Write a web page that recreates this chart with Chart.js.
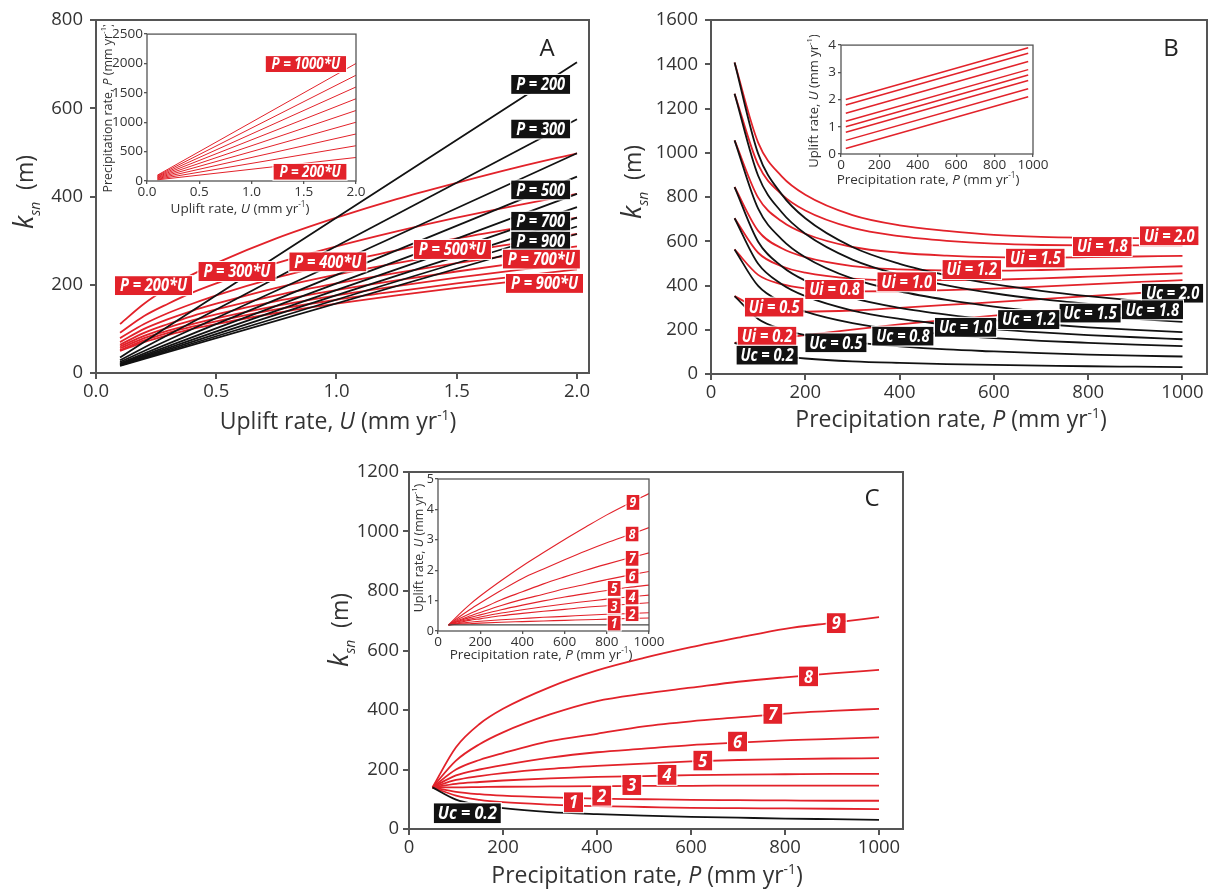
<!DOCTYPE html>
<html><head><meta charset="utf-8">
<script src="https://cdn.jsdelivr.net/npm/chart.js@4.4.1/dist/chart.umd.min.js"></script>
<style>
html,body{margin:0;padding:0;background:#fff;}
body{width:1217px;height:890px;position:relative;overflow:hidden;}
canvas{position:absolute;}
</style></head><body>
<canvas id="cA" width="600" height="440" style="left:0px;top:0px"></canvas>
<canvas id="cB" width="607" height="440" style="left:610px;top:0px"></canvas>
<canvas id="cC" width="610" height="440" style="left:300px;top:450px"></canvas>
<canvas id="iA" width="270" height="195" style="left:100px;top:25px"></canvas>
<canvas id="iB" width="250" height="155" style="left:800px;top:35px"></canvas>
<canvas id="iC" width="262" height="192" style="left:405px;top:470px"></canvas>
<script>
// ================= DATA =================
// Panel A: ksn vs uplift rate U
const A_U = [0.1, 0.2, 0.3, 0.4, 0.5, 0.75, 1.0, 1.25, 1.5, 1.75, 2.0];
// red curves, P = k*U, k = 200 ... 1000
const A_redK = [200, 300, 400, 500, 600, 700, 800, 900, 1000];
const A_red = [
  [111,157,193,223,249,305,352,394,431,466,498],
  [91,129,157,182,203,249,287,321,352,380,406],
  [79,111,136,157,176,216,249,278,305,329,352],
  [70,100,122,141,157,193,223,249,273,294,315],
  [64,91,111,129,144,176,203,227,249,269,287],
  [60,84,103,119,133,163,188,210,230,249,266],
  [56,79,96,111,124,152,176,197,216,233,249],
  [52,74,91,105,117,144,166,185,203,219,235],
  [50,70,86,100,111,136,157,176,193,208,223]
];
// black lines, constant P = 200 ... 1000
const A_blackU = [0.1, 2.0];
const A_blackP = [200, 300, 400, 500, 600, 700, 800, 900, 1000];
const A_black = [[35,704],[29,575],[25,498],[22,445],[20,406],[19,376],[18,352],[17,332],[16,315]];
// inset A: P = k*U
const iA_U = [0.1, 2.0];
const iA_P = [[20,400],[30,600],[40,800],[50,1000],[60,1200],[70,1400],[80,1600],[90,1800],[100,2000]];

// Panel B: ksn vs precipitation P
const B_P = [50, 100, 150, 200, 300, 400, 500, 600, 700, 800, 900, 1000];
const B_Ui = [0.2, 0.5, 0.8, 1.0, 1.2, 1.5, 1.8, 2.0];
const B_red = [
  [141,149,162,176,201,224,245,264,282,299,315,330],
  [352,299,284,282,287,299,312,325,338,352,365,377],
  [563,448,406,387,373,374,379,386,395,405,415,424],
  [704,548,487,458,431,423,424,426,432,440,448,455],
  [845,647,568,528,488,473,468,467,470,475,481,487],
  [1056,797,690,634,574,548,535,528,526,528,531,534],
  [1267,946,812,739,660,623,602,589,583,581,581,581],
  [1408,1046,893,810,718,672,647,629,620,616,614,612]
];
const B_Uc = [0.2, 0.5, 0.8, 1.0, 1.2, 1.5, 1.8, 2.0];
const B_black = [
  [141,100,81,70,57,50,45,41,38,35,33,31],
  [352,249,203,176,144,125,111,102,94,88,83,79],
  [563,398,325,282,230,199,178,162,150,141,133,126],
  [704,498,406,352,287,249,223,203,188,176,166,157],
  [845,598,487,422,344,299,268,244,226,211,199,189],
  [1056,747,609,528,431,374,335,305,282,264,249,236],
  [1267,896,731,634,517,448,401,365,338,317,299,283],
  [1408,996,812,704,574,498,446,406,376,352,332,314]
];
// inset B: U vs P
const iB_P = [25, 975];
const iB_U = [[0.2,2.1],[0.5,2.4],[0.8,2.7],[1.0,2.9],[1.2,3.1],[1.5,3.4],[1.8,3.7],[2.0,3.9]];

// Panel C
const C_P = [50, 100, 150, 200, 300, 400, 500, 600, 700, 800, 900, 1000];
const C_red = [
  [140,112,98,90,82,77,74,71,70,69,68,67],
  [140,125,117,112,106,102,100,98,97,96,95,95],
  [140,140,141,142,143,144,145,145,146,146,146,146],
  [140,152,158,163,170,175,178,181,183,184,185,185],
  [140,165,178,188,202,212,220,227,232,235,237,238],
  [140,180,200,215,240,258,270,282,290,298,303,308],
  [140,200,232,255,295,320,345,362,375,388,397,404],
  [140,230,285,325,385,430,455,475,495,510,523,535],
  [140,275,353,404,477,533,575,611,643,673,693,712]
];
const C_black = [140,99,81,70,57,50,45,41,38,35,33,31];
const iC_U = [
  [0.2,0.23,0.24,0.26,0.29,0.31,0.33,0.35,0.37,0.39,0.41,0.43],
  [0.2,0.25,0.29,0.32,0.37,0.41,0.45,0.48,0.52,0.55,0.57,0.60],
  [0.2,0.28,0.35,0.40,0.50,0.58,0.65,0.71,0.78,0.83,0.88,0.93],
  [0.2,0.31,0.39,0.46,0.59,0.70,0.80,0.89,0.97,1.05,1.12,1.18],
  [0.2,0.33,0.44,0.53,0.70,0.85,0.99,1.12,1.23,1.33,1.43,1.51],
  [0.2,0.36,0.49,0.61,0.84,1.04,1.21,1.39,1.54,1.69,1.83,1.96],
  [0.2,0.40,0.57,0.72,1.03,1.29,1.55,1.78,2.00,2.20,2.39,2.57],
  [0.2,0.46,0.70,0.92,1.34,1.73,2.04,2.34,2.63,2.90,3.15,3.40],
  [0.2,0.55,0.87,1.15,1.66,2.14,2.58,3.01,3.42,3.82,4.18,4.52]
];
const iC_black = [0.2,0.2,0.2,0.2,0.2,0.2,0.2,0.2,0.2,0.2,0.2,0.2];

// tick values
const A_xTicks = [0, 0.5, 1.0, 1.5, 2.0];
const A_yTicks = [0, 200, 400, 600, 800];
const B_xTicks = [0, 200, 400, 600, 800, 1000];
const B_yTicks = [0, 200, 400, 600, 800, 1000, 1200, 1400, 1600];
const C_xTicks = [0, 200, 400, 600, 800, 1000];
const C_yTicks = [0, 200, 400, 600, 800, 1000, 1200];
const iA_xTicks = [0, 0.5, 1.0, 1.5, 2.0];
const iA_yTicks = [0, 500, 1000, 1500, 2000, 2500];
const iB_xTicks = [0, 200, 400, 600, 800, 1000];
const iB_yTicks = [0, 1, 2, 3, 4];
const iC_xTicks = [0, 200, 400, 600, 800, 1000];
const iC_yTicks = [0, 1, 2, 3, 4, 5];

// ================= STYLE / DRAWING =================
const FONT = "'Open Sans', 'DejaVu Sans', sans-serif";
const RED = '#e2222a';
const BLACK = '#121212';
const AXIS = '#555555';
const TXT = '#333333';

// annotation boxes (data coordinates)
const A_labels = [
  {t:'P = 200', x:1.849, y:654, c:BLACK}, {t:'P = 300', x:1.849, y:553, c:BLACK},
  {t:'P = 500', x:1.849, y:415, c:BLACK}, {t:'P = 700', x:1.849, y:344, c:BLACK},
  {t:'P = 900', x:1.849, y:299, c:BLACK},
  {t:'P = 200*U', x:0.239, y:198, c:RED}, {t:'P = 300*U', x:0.586, y:230, c:RED},
  {t:'P = 400*U', x:0.964, y:252, c:RED}, {t:'P = 500*U', x:1.482, y:280, c:RED},
  {t:'P = 700*U', x:1.852, y:258, c:RED}, {t:'P = 900*U', x:1.865, y:203, c:RED}
];
const iA_labels = [{t:'P = 1000*U', x:1.52, y:1990, c:RED}, {t:'P = 200*U', x:1.56, y:157, c:RED}];
const B_labels = [
  {t:'Ui = 2.0', x:972, y:625, c:RED}, {t:'Ui = 1.8', x:830, y:576, c:RED},
  {t:'Ui = 1.5', x:688, y:524, c:RED}, {t:'Ui = 1.2', x:553, y:472, c:RED},
  {t:'Ui = 1.0', x:415, y:417, c:RED}, {t:'Ui = 0.8', x:262, y:382, c:RED},
  {t:'Ui = 0.5', x:134, y:302, c:RED}, {t:'Ui = 0.2', x:119, y:171, c:RED},
  {t:'Uc = 2.0', x:979, y:365, c:BLACK}, {t:'Uc = 1.8', x:936, y:290, c:BLACK},
  {t:'Uc = 1.5', x:804, y:275, c:BLACK}, {t:'Uc = 1.2', x:674, y:246, c:BLACK},
  {t:'Uc = 1.0', x:540, y:211, c:BLACK}, {t:'Uc = 0.8', x:407, y:171, c:BLACK},
  {t:'Uc = 0.5', x:265, y:141, c:BLACK}, {t:'Uc = 0.2', x:119, y:85, c:BLACK}
];
const C_labels = [
  {t:'1', x:350, y:90, c:RED, w:19}, {t:'2', x:410, y:112, c:RED, w:19},
  {t:'3', x:474, y:148, c:RED, w:19}, {t:'4', x:549, y:182, c:RED, w:19},
  {t:'5', x:625, y:230, c:RED, w:19}, {t:'6', x:699, y:294, c:RED, w:19},
  {t:'7', x:774, y:387, c:RED, w:19}, {t:'8', x:850, y:513, c:RED, w:19},
  {t:'9', x:909, y:692, c:RED, w:19}, {t:'Uc = 0.2', x:124, y:53, c:BLACK}
];
const iC_labels = [
  {t:'9', x:924, y:4.23, c:RED, w:13}, {t:'8', x:920, y:3.19, c:RED, w:13},
  {t:'7', x:920, y:2.39, c:RED, w:13}, {t:'6', x:920, y:1.81, c:RED, w:13},
  {t:'5', x:835, y:1.40, c:RED, w:13}, {t:'4', x:920, y:1.12, c:RED, w:13},
  {t:'3', x:835, y:0.83, c:RED, w:13}, {t:'2', x:920, y:0.57, c:RED, w:13},
  {t:'1', x:835, y:0.26, c:RED, w:13}
];

function ds(xs, ys, color, w) {
  return { data: xs.map((x, i) => ({x: x, y: ys[i]})), borderColor: color, borderWidth: w,
           pointRadius: 0, fill: false, cubicInterpolationMode: 'monotone' };
}

function drawRich(c, T, off) {
  c.save();
  c.fillStyle = T.color || TXT;
  c.translate(T.x - off[0], T.y - off[1]);
  if (T.rot) c.rotate(-Math.PI / 2);
  c.textBaseline = 'alphabetic';
  c.textAlign = 'left';
  const segs = T.parts.map(p => {
    const s = (p.s || 1) * T.size;
    const f = (p.it ? 'italic ' : '') + s.toFixed(1) + 'px ' + FONT;
    c.font = f;
    return {f: f, w: c.measureText(p.t).width, dy: (p.dy || 0) * T.size, t: p.t};
  });
  const W = segs.reduce((a, s) => a + s.w, 0);
  let x = -W / 2;
  const base = T.size * 0.36;
  for (const s of segs) { c.font = s.f; c.fillText(s.t, x, base + s.dy); x += s.w; }
  c.restore();
}

function drawLabels(chart, labels, L) {
  const c = chart.ctx, xs = chart.scales.x, ys = chart.scales.y;
  c.save();
  c.font = 'italic 700 ' + L.fs + 'px ' + FONT;
  c.textAlign = 'center';
  c.textBaseline = 'middle';
  for (const b of labels) {
    const cx = xs.getPixelForValue(b.x), cy = ys.getPixelForValue(b.y);
    const w = b.w ? b.w : c.measureText(b.t).width * L.sx + 2 * L.px;
    c.fillStyle = b.c;
    c.fillRect(cx - w / 2, cy - L.h / 2, w, L.h);
    c.strokeStyle = '#ffffff'; c.lineWidth = 1;
    c.strokeRect(cx - w / 2 - 0.5, cy - L.h / 2 - 0.5, w + 1, L.h + 1);
    c.fillStyle = '#ffffff';
    c.save();
    c.translate(cx, cy + 1);
    c.scale(L.sx, 1);
    c.fillText(b.t, 0, 0);
    c.restore();
  }
  c.restore();
}

function axis(a, isY) {
  return {
    type: 'linear', min: a.min, max: a.max,
    afterBuildTicks: s => { s.ticks = a.ticks.map(v => ({value: v})); },
    afterFit: s => { if (isY) s.width = a.size; else s.height = a.size; },
    ticks: { callback: v => a.fmt(v), font: {family: FONT, size: a.font}, color: TXT,
             padding: a.pad, maxRotation: 0, autoSkip: false },
    grid: { display: true, drawOnChartArea: false, drawTicks: true, tickLength: a.tl,
            color: AXIS, lineWidth: a.lw },
    border: { display: false },
    title: { display: false }
  };
}

function makeChart(id, o) {
  const ctx = document.getElementById(id).getContext('2d');
  return new Chart(ctx, {
    type: 'line',
    data: { datasets: o.datasets },
    options: {
      responsive: false, animation: false, events: [],
      layout: { padding: o.pad },
      plugins: { legend: {display: false}, tooltip: {enabled: false} },
      scales: { x: axis(o.x, false), y: axis(o.y, true) }
    },
    plugins: [{
      id: 'deco',
      afterDatasetsDraw(chart) {
        const a = chart.chartArea, c = chart.ctx;
        c.save(); c.strokeStyle = AXIS; c.lineWidth = o.frameW;
        c.strokeRect(a.left, a.top, a.right - a.left, a.bottom - a.top); c.restore();
        if (o.labels) drawLabels(chart, o.labels, o.lab);
      },
      afterDraw(chart) {
        for (const T of o.texts) drawRich(chart.ctx, T, o.off);
      }
    }]
  });
}

const fmt1 = v => v.toFixed(1);
const fmt0 = v => String(Math.round(v));
const sup = {t: '-1', s: 0.6, dy: -0.42};
const titleU = [{t: 'Uplift rate, '}, {t: 'U', it: 1}, {t: ' (mm yr'}, sup, {t: ')'}];
const titleP = [{t: 'Precipitation rate, '}, {t: 'P', it: 1}, {t: ' (mm yr'}, sup, {t: ')'}];
const titleK = [{t: 'k', it: 1, s: 1.18}, {t: 'sn', it: 1, s: 0.6, dy: 0.28}, {t: '  (m)'}];

// ---------- Panel A ----------
const dsA = [];
A_black.forEach(v => dsA.push(ds(A_blackU, v, BLACK, 1.8)));
A_red.forEach(v => dsA.push(ds(A_U, v, RED, 1.8)));
makeChart('cA', {
  off: [0, 0], pad: {top: 20, right: 11, left: 0, bottom: 0}, frameW: 2,
  datasets: dsA,
  x: {min: 0, max: 2.05, ticks: A_xTicks, fmt: fmt1, font: 18.5, pad: 2, tl: 6, lw: 2, size: 67},
  y: {min: 0, max: 800, ticks: A_yTicks, fmt: fmt0, font: 18.5, pad: 7, tl: 6, lw: 2, size: 96},
  labels: A_labels, lab: {fs: 17, h: 19, px: 5, sx: 0.86},
  texts: [
    {parts: titleU, x: 338, y: 421, size: 23},
    {parts: titleK, x: 25, y: 192, size: 23, rot: 1},
    {parts: [{t: 'A'}], x: 547, y: 47, size: 24, color: '#222'}
  ]
});

// ---------- Panel B ----------
const dsB = [];
B_black.forEach(v => dsB.push(ds(B_P, v, BLACK, 1.8)));
B_red.forEach(v => dsB.push(ds(B_P, v, RED, 1.8)));
makeChart('cB', {
  off: [610, 0], pad: {top: 20, right: 10, left: 0, bottom: 0}, frameW: 2,
  datasets: dsB,
  x: {min: 0, max: 1052, ticks: B_xTicks, fmt: fmt0, font: 18.5, pad: 2, tl: 6, lw: 2, size: 66},
  y: {min: 0, max: 1600, ticks: B_yTicks, fmt: fmt0, font: 18.5, pad: 7, tl: 6, lw: 2, size: 101},
  labels: B_labels, lab: {fs: 17, h: 19, px: 4, sx: 0.86},
  texts: [
    {parts: titleP, x: 951, y: 419, size: 23},
    {parts: titleK, x: 633, y: 182, size: 23, rot: 1},
    {parts: [{t: 'B'}], x: 1171, y: 47, size: 24, color: '#222'}
  ]
});

// ---------- Panel C ----------
const dsC = [ds(C_P, C_black, BLACK, 1.8)];
C_red.forEach(v => dsC.push(ds(C_P, v, RED, 1.8)));
makeChart('cC', {
  off: [300, 450], pad: {top: 22, right: 7, left: 0, bottom: 0}, frameW: 2,
  datasets: dsC,
  x: {min: 0, max: 1051, ticks: C_xTicks, fmt: fmt0, font: 18.5, pad: 2, tl: 6, lw: 2, size: 61},
  y: {min: 0, max: 1200, ticks: C_yTicks, fmt: fmt0, font: 18.5, pad: 4, tl: 6, lw: 2, size: 109},
  labels: C_labels, lab: {fs: 18, h: 20, px: 4, sx: 0.9},
  texts: [
    {parts: titleP, x: 647, y: 875, size: 23},
    {parts: titleK, x: 340, y: 630, size: 23, rot: 1},
    {parts: [{t: 'C'}], x: 872, y: 497, size: 24, color: '#222'}
  ]
});

// ---------- Inset A ----------
makeChart('iA', {
  off: [100, 25], pad: {top: 8, right: 14, left: 0, bottom: 0}, frameW: 1.3,
  datasets: iA_P.map(v => ds(iA_U, v, RED, 1)),
  x: {min: 0, max: 2.0, ticks: iA_xTicks, fmt: fmt1, font: 13.5, pad: 0, tl: 3, lw: 1.3, size: 39},
  y: {min: 0, max: 2500, ticks: iA_yTicks, fmt: fmt0, font: 13.5, pad: 1, tl: 3, lw: 1.3, size: 47},
  labels: iA_labels, lab: {fs: 15.5, h: 16, px: 6, sx: 0.86},
  texts: [
    {parts: titleU, x: 240, y: 208, size: 13.5},
    {parts: titleP, x: 107, y: 108, size: 12.5, rot: 1}
  ]
});

// ---------- Inset B ----------
makeChart('iB', {
  off: [800, 35], pad: {top: 8, right: 17, left: 0, bottom: 0}, frameW: 1.3,
  datasets: iB_U.map(v => ds(iB_P, v, RED, 1.5)),
  x: {min: 0, max: 1000, ticks: iB_xTicks, fmt: fmt0, font: 13.5, pad: 0, tl: 3, lw: 1.3, size: 36},
  y: {min: 0, max: 4, ticks: iB_yTicks, fmt: fmt0, font: 13.5, pad: 2, tl: 3, lw: 1.3, size: 41},
  texts: [
    {parts: titleP, x: 928, y: 179, size: 13.5},
    {parts: titleU, x: 813, y: 101, size: 13, rot: 1}
  ]
});

// ---------- Inset C ----------
const dsIC = [ds(C_P, iC_black, '#444444', 1.3)];
iC_U.forEach(v => dsIC.push(ds(C_P, v, RED, 1.1)));
makeChart('iC', {
  off: [405, 470], pad: {top: 9, right: 18, left: 0, bottom: 0}, frameW: 1.3,
  datasets: dsIC,
  x: {min: 0, max: 1000, ticks: iC_xTicks, fmt: fmt0, font: 13.5, pad: 0, tl: 3, lw: 1.3, size: 31},
  y: {min: 0, max: 5, ticks: iC_yTicks, fmt: fmt0, font: 12.5, pad: 1, tl: 3, lw: 1.3, size: 33},
  labels: iC_labels, lab: {fs: 13.5, h: 15, px: 2, sx: 0.9},
  texts: [
    {parts: titleP, x: 541, y: 654, size: 13.5},
    {parts: titleU, x: 418, y: 548, size: 12.5, rot: 1}
  ]
});
</script>
</body></html>
